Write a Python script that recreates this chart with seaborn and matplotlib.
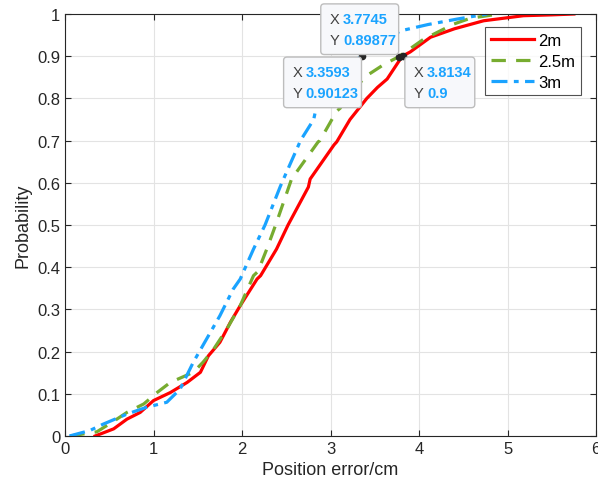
import numpy as np
import pandas as pd
import seaborn as sns
import matplotlib.pyplot as plt
from matplotlib.patches import FancyBboxPatch

# CDF curves (position error in cm, probability)
err_2m = [0.34, 0.55, 0.70, 0.85, 1.00, 1.19, 1.38, 1.53, 1.62, 1.75, 1.87, 1.98, 2.17, 2.21,
          2.39, 2.52, 2.75, 2.77, 3.04, 3.07, 3.22, 3.41, 3.53, 3.64, 3.81, 3.90, 4.13, 4.40,
          4.73, 5.18, 5.50, 5.75]
prob_2m = [0.0, 0.017, 0.04, 0.056, 0.084, 0.103, 0.127, 0.151, 0.19, 0.222, 0.27, 0.309, 0.372, 0.38,
           0.443, 0.50, 0.59, 0.609, 0.69, 0.697, 0.75, 0.80, 0.826, 0.846, 0.90, 0.91, 0.945, 0.965,
           0.984, 0.996, 0.998, 1.0]

err_25m = [0.06, 0.36, 0.55, 0.70, 0.89, 1.04, 1.19, 1.45, 1.56, 1.68, 1.83, 1.98, 2.13, 2.18,
           2.28, 2.38, 2.56, 2.86, 2.88, 3.07, 3.11, 3.19, 3.41, 3.60, 3.77, 4.05, 4.39, 4.58,
           4.90]
prob_25m = [0.0, 0.01, 0.035, 0.056, 0.076, 0.103, 0.127, 0.151, 0.175, 0.206, 0.254, 0.309, 0.38, 0.39,
            0.443, 0.50, 0.609, 0.697, 0.70, 0.77, 0.777, 0.806, 0.854, 0.88, 0.89877, 0.94, 0.976, 0.99,
            1.0]

err_3m = [0.05, 0.28, 0.43, 0.70, 0.92, 1.15, 1.30, 1.45, 1.60, 1.75, 1.90, 1.98, 2.06, 2.13,
          2.26, 2.43, 2.45, 2.64, 2.66, 2.81, 2.86, 2.98, 3.36, 3.55, 3.79, 4.10, 4.43, 4.77]
prob_3m = [0.0, 0.013, 0.028, 0.052, 0.068, 0.08, 0.111, 0.175, 0.23, 0.285, 0.348, 0.372, 0.41, 0.443,
           0.50, 0.59, 0.60, 0.69, 0.70, 0.75, 0.80, 0.85, 0.90123, 0.93, 0.96, 0.975, 0.988, 1.0]

labels = ['2m', '2.5m', '3m']
colors = ['#FF0000', '#77AC30', '#1AA3FF']

# data tips: (x, y, box left, box top, box width) in data coords
tips = [(3.7745, 0.89877, 2.89, 1.024, 0.88),
        (3.3593, 0.90123, 2.47, 0.898, 0.88),
        (3.8134, 0.9, 3.84, 0.898, 0.79)]

df = pd.concat([
    pd.DataFrame({'err': e, 'prob': p, 'dist': l})
    for e, p, l in zip([err_2m, err_25m, err_3m], [prob_2m, prob_25m, prob_3m], labels)
])

plt.rcParams['font.family'] = ['Liberation Sans', 'DejaVu Sans']
fig = plt.figure(figsize=(5.98, 4.89), dpi=100)
ax = fig.add_axes([0.1087, 0.1063, 0.888, 0.8630])

styles = {'2m': '-', '2.5m': (0, (4.5, 3.2)), '3m': (0, (5, 2, 1.5, 2))}
for lab, col in zip(labels, colors):
    sub = df[df['dist'] == lab]
    sns.lineplot(data=sub, x='err', y='prob', ax=ax, color=col, lw=2.3,
                 linestyle=styles[lab], label=lab, sort=False, estimator=None)

ax.set_xlim(0, 6)
ax.set_ylim(0, 1)
ax.set_xticks(range(7))
ax.set_yticks(np.round(np.arange(0, 1.01, 0.1), 1))
ax.set_yticklabels(['0'] + [f'{v:.1f}' for v in np.arange(0.1, 0.95, 0.1)] + ['1'])
ax.grid(True, color='#E3E3E3', lw=0.8)
ax.set_axisbelow(True)
ax.tick_params(direction='in', length=4, labelsize=12, colors='#262626', top=True, right=True)
for s in ax.spines.values():
    s.set_color('#262626')
    s.set_linewidth(0.8)
ax.set_xlabel('Position error/cm', fontsize=13, color='#262626')
ax.set_ylabel('Probability', fontsize=13, color='#262626')

leg = ax.legend(loc='upper right', bbox_to_anchor=(0.972, 0.969), fontsize=12, frameon=True,
                fancybox=False, edgecolor='#262626', handlelength=2.6, borderpad=0.35,
                labelspacing=0.35, handletextpad=0.25, borderaxespad=0)
leg.get_frame().set_linewidth(0.8)

# data tips
for x, y, bx, by, w in tips:
    ax.plot(x, y, 'o', ms=4.5, color='#262626', zorder=6)
    h = 0.12
    ax.add_patch(FancyBboxPatch((bx, by - h), w, h, boxstyle='round,pad=0,rounding_size=0.04',
                                fc='#F7F8FB', ec='#BDBDBD', lw=1, zorder=7, clip_on=False,
                                mutation_aspect=0.2))
    for i, (k, v) in enumerate([('X', f'{x:g}'), ('Y', f'{y:g}')]):
        ty = by - 0.036 - i * 0.05
        ax.text(bx + 0.1, ty, k, fontsize=10.5, color='#404040', va='center', zorder=8)
        ax.text(bx + 0.25, ty, v, fontsize=10.5, color='#1AA3FF', fontweight='bold',
                va='center', zorder=8, clip_on=False)
    ax.texts[-2].set_clip_on(False)

fig.savefig('out.png', dpi=100)
